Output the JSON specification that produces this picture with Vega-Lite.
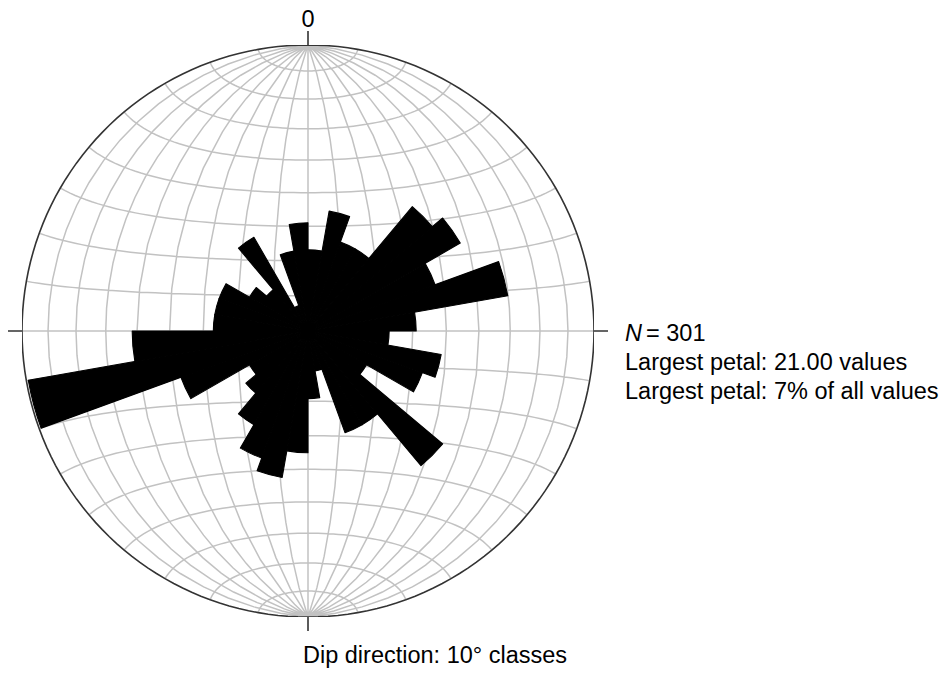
{
  "$schema": "https://vega.github.io/schema/vega-lite/v6.json",
  "width": 572,
  "height": 572,
  "autosize": {"type": "none"},
  "padding": {"left": 22, "top": 45, "right": 355, "bottom": 56},
  "background": "white",
  "config": {"view": {"stroke": null}, "font": "Liberation Sans"},
  "projection": {"type": "azimuthalEqualArea", "scale": 202.23, "translate": [286, 286], "clipAngle": 90, "rotate": [0, 0, 0]},
  "layer": [
    {
      "data": {"graticule": {"stepMinor": [10, 10], "extentMinor": [[-180, -90], [180, 90]]}},
      "mark": {"type": "geoshape", "filled": false, "stroke": "#c2c2c2", "strokeWidth": 1.5}
    },
    {
      "data": {"values": [
        {"from": 0, "to": 10, "count": 6}, {"from": 10, "to": 20, "count": 9}, {"from": 20, "to": 30, "count": 7},
        {"from": 30, "to": 40, "count": 7}, {"from": 40, "to": 50, "count": 12}, {"from": 50, "to": 60, "count": 13},
        {"from": 60, "to": 70, "count": 10}, {"from": 70, "to": 80, "count": 15}, {"from": 80, "to": 90, "count": 8},
        {"from": 90, "to": 100, "count": 6}, {"from": 100, "to": 110, "count": 10}, {"from": 110, "to": 120, "count": 9},
        {"from": 120, "to": 130, "count": 5}, {"from": 130, "to": 140, "count": 13}, {"from": 140, "to": 150, "count": 8},
        {"from": 150, "to": 160, "count": 8}, {"from": 160, "to": 170, "count": 3}, {"from": 170, "to": 180, "count": 5},
        {"from": 180, "to": 190, "count": 9}, {"from": 190, "to": 200, "count": 11}, {"from": 200, "to": 210, "count": 10},
        {"from": 210, "to": 220, "count": 8}, {"from": 220, "to": 230, "count": 6}, {"from": 230, "to": 240, "count": 5},
        {"from": 240, "to": 250, "count": 10}, {"from": 250, "to": 260, "count": 21}, {"from": 260, "to": 270, "count": 13},
        {"from": 270, "to": 280, "count": 7}, {"from": 280, "to": 290, "count": 7}, {"from": 290, "to": 300, "count": 7},
        {"from": 300, "to": 310, "count": 5}, {"from": 310, "to": 320, "count": 4}, {"from": 320, "to": 330, "count": 8},
        {"from": 330, "to": 340, "count": 2}, {"from": 340, "to": 350, "count": 6}, {"from": 350, "to": 360, "count": 8}
      ]},
      "mark": {"type": "arc", "fill": "black", "stroke": "black", "strokeWidth": 1.1, "strokeJoin": "round"},
      "encoding": {
        "theta": {"field": "from", "type": "quantitative", "stack": null, "scale": {"type": "linear", "domain": [0, 360], "range": [0, 6.283185307179586]}},
        "theta2": {"field": "to"},
        "radius": {"field": "count", "type": "quantitative", "scale": {"type": "linear", "domain": [0, 21], "range": [0, 284]}}
      }
    },
    {
      "data": {"sphere": true},
      "mark": {"type": "geoshape", "filled": false, "stroke": "#333333", "strokeWidth": 1.6}
    },
    {
      "data": {"values": [{"dir": 0}, {"dir": 90}, {"dir": 180}, {"dir": 270}]},
      "mark": {"type": "arc", "radius": 300, "radius2": 286, "stroke": "#333333", "strokeWidth": 1.6, "fill": null},
      "encoding": {
        "theta": {"field": "dir", "type": "quantitative", "stack": null},
        "theta2": {"field": "dir"}
      }
    },
    {
      "data": {"values": [{"label": "0", "dir": 0}]},
      "mark": {"type": "text", "radius": 304, "align": "center", "baseline": "alphabetic", "fontSize": 23.5, "color": "black"},
      "encoding": {
        "theta": {"field": "dir", "type": "quantitative", "stack": null},
        "text": {"field": "label"}
      }
    },
    {
      "data": {"values": [{"label": "Dip direction: 10° classes", "dir": 180}]},
      "mark": {"type": "text", "radius": 332, "align": "left", "dx": -5, "baseline": "alphabetic", "fontSize": 23.5, "color": "black"},
      "encoding": {
        "theta": {"field": "dir", "type": "quantitative", "stack": null},
        "text": {"field": "label"}
      }
    },
    {
      "data": {"values": [{"label": "N", "dir": 90}]},
      "mark": {"type": "text", "radius": 317, "align": "left", "dy": 10, "baseline": "alphabetic", "fontSize": 23.5, "fontStyle": "italic", "color": "black"},
      "encoding": {
        "theta": {"field": "dir", "type": "quantitative", "stack": null},
        "text": {"field": "label"}
      }
    },
    {
      "data": {"values": [{"label": "= 301", "dir": 90}]},
      "mark": {"type": "text", "radius": 317, "align": "left", "dx": 21, "dy": 10, "baseline": "alphabetic", "fontSize": 23.5, "color": "black"},
      "encoding": {
        "theta": {"field": "dir", "type": "quantitative", "stack": null},
        "text": {"field": "label"}
      }
    },
    {
      "data": {"values": [{"label": ["Largest petal: 21.00 values", "Largest petal: 7% of all values"], "dir": 90}]},
      "mark": {"type": "text", "radius": 317, "align": "left", "dy": 39, "baseline": "alphabetic", "lineHeight": 29, "fontSize": 23.5, "color": "black"},
      "encoding": {
        "theta": {"field": "dir", "type": "quantitative", "stack": null},
        "text": {"field": "label"}
      }
    }
  ]
}
